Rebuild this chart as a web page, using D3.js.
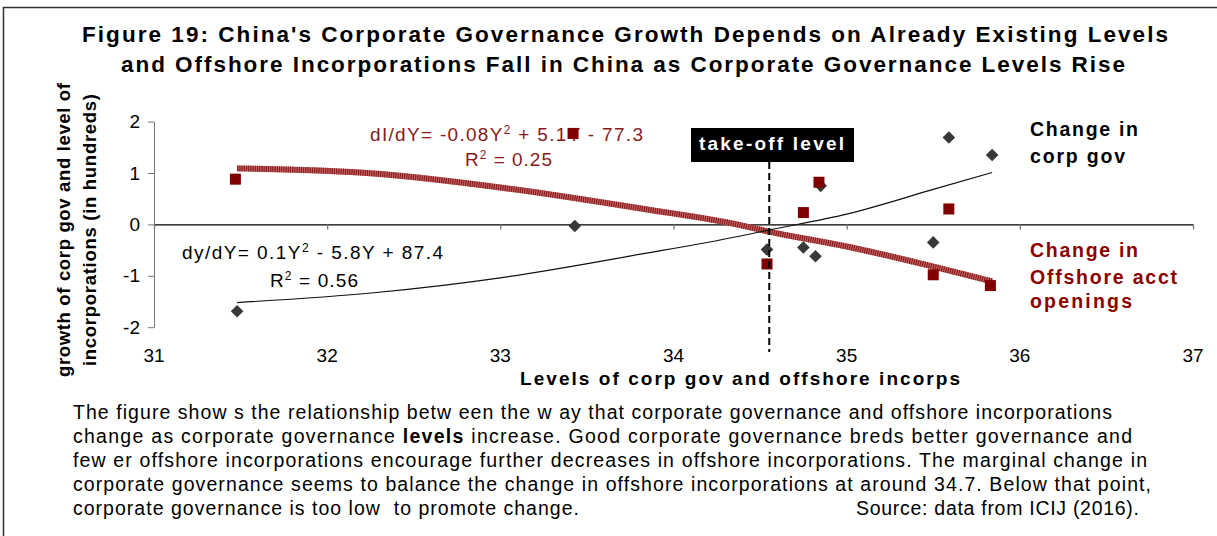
<!DOCTYPE html>
<html>
<head>
<meta charset="utf-8">
<script src="https://cdn.jsdelivr.net/npm/d3@7"></script>
<style>
  body { margin: 0; background: #fff; }
  svg { display: block; font-family: "Liberation Sans", Arial, sans-serif; }
</style>
</head>
<body>
<div id="chart"></div>
<script>
// values
var xTicks = [31, 32, 33, 34, 35, 36, 37];
var yTicks = [-2, -1, 0, 1, 2];

// Change in corp gov (diamonds)
var corpX = [31.48, 33.43, 34.54, 34.75, 34.82, 34.85, 35.50, 35.59, 35.84];
var corpY = [-1.69, -0.03, -0.49, -0.45, -0.62, 0.75, -0.35, 1.69, 1.35];

// Change in offshore acct openings (squares)
var offX = [31.47, 33.42, 34.54, 34.75, 34.84, 35.50, 35.59, 35.83];
var offY = [0.88, 1.77, -0.77, 0.23, 0.82, -0.98, 0.30, -1.19];

// polynomial trend lines
var trendX = [31.48, 32.27, 33.04, 33.81, 34.38, 34.55, 35.0, 35.5, 35.84];
var corpTrend = [-1.52, -1.33, -1.02, -0.58, -0.23, -0.11, 0.20, 0.68, 1.01];
var offTrend = [1.09, 0.99, 0.70, 0.31, -0.01, -0.14, -0.43, -0.82, -1.11];

var takeOff = 34.553;

var titleLines = [
  "Figure 19: China's Corporate Governance Growth Depends on Already Existing Levels",
  "and Offshore Incorporations Fall in China as Corporate Governance Levels Rise"
];

var W = 1217, H = 536;
var red = "#8b0000";

var svg = d3.select("#chart").append("svg")
    .attr("width", W)
    .attr("height", H);

// frame (top + left edges only)
svg.append("path")
    .attr("d", "M3.5,536 L3.5,7.5 L1217,7.5")
    .attr("fill", "none")
    .attr("stroke", "#333")
    .attr("stroke-width", 1.5);

// title
svg.selectAll(".title")
    .data(titleLines)
    .enter().append("text")
    .attr("class", "title")
    .attr("x", function(d, i){ return i == 0 ? 82 : 121; })
    .attr("y", function(d, i){ return i == 0 ? 42 : 72; })
    .attr("textLength", function(d, i){ return i == 0 ? 1086 : 1004; })
    .attr("lengthAdjust", "spacing")
    .style("font-size", "22.5px")
    .style("font-weight", "bold")
    .text(function(d){ return d; });

var x = d3.scaleLinear().domain([31, 37]).range([154, 1193]);
var y = d3.scaleLinear().domain([-2, 2]).range([327.2, 121.6]);

// y axis (left)
var yAxis = svg.append("g")
    .attr("transform", "translate(" + x(31) + ",0)")
    .call(d3.axisLeft(y).tickValues(yTicks).tickSize(6).tickSizeOuter(0)
        .tickFormat(function(d){ return String(d); }));
yAxis.select(".domain").attr("stroke", "#777");
yAxis.selectAll(".tick line").attr("stroke", "#777");
yAxis.selectAll(".tick text")
    .attr("x", -14)
    .style("font-size", "19px")
    .style("font-family", "'Liberation Sans', Arial, sans-serif")
    .attr("fill", "#000");

// x axis sits on zero, ticks pointing down, labels at the bottom
var xAxis = svg.append("g")
    .attr("transform", "translate(0," + y(0) + ")")
    .call(d3.axisBottom(x).tickValues(xTicks).tickSize(5).tickSizeOuter(0).tickFormat(""));
xAxis.select(".domain").attr("stroke", "#000").attr("stroke-width", 1.3);
xAxis.selectAll(".tick line").attr("stroke", "#777").attr("stroke-width", 1.3);

svg.append("g").selectAll("text")
    .data(xTicks)
    .enter().append("text")
    .attr("x", function(d){ return x(d); })
    .attr("y", 362)
    .attr("text-anchor", "middle")
    .style("font-size", "19px")
    .text(function(d){ return d; });

// axis titles
svg.append("text")
    .attr("x", 520)
    .attr("y", 385)
    .attr("textLength", 440)
    .attr("lengthAdjust", "spacing")
    .style("font-size", "19px")
    .style("font-weight", "bold")
    .text("Levels of corp gov and offshore incorps");

var yLab = svg.append("text")
    .attr("transform", "translate(70,230) rotate(-90)")
    .style("font-size", "18.5px")
    .style("font-weight", "bold");
yLab.append("tspan").attr("x", -147).attr("y", 0)
    .attr("textLength", 294).attr("lengthAdjust", "spacing")
    .text("growth of corp gov and level of");
yLab.append("tspan").attr("x", -136).attr("y", 26)
    .attr("textLength", 272).attr("lengthAdjust", "spacing")
    .text("incorporations (in hundreds)");

// equations: text with a raised "2"
function equation(px, py, len, color, pre, post){
  var t = svg.append("text")
      .attr("x", px).attr("y", py)
      .attr("textLength", len)
      .attr("lengthAdjust", "spacing")
      .attr("fill", color)
      .style("font-size", "19px");
  t.append("tspan").text(pre);
  t.append("tspan").attr("dy", -7).style("font-size", "12px").text("2");
  t.append("tspan").attr("dy", 7).text(post);
}
equation(370, 141, 273, "#8b1a1a", "dI/dY= -0.08Y", " + 5.1Y - 77.3");
equation(465, 166, 87, "#8b1a1a", "R", " = 0.25");
equation(182, 259, 261, "#000", "dy/dY= 0.1Y", " - 5.8Y + 87.4");
equation(270, 286.5, 88, "#000", "R", " = 0.56");

// trend lines
var trendLine = d3.line()
    .x(function(d, i){ return x(trendX[i]); })
    .y(function(d){ return y(d); })
    .curve(d3.curveMonotoneX);

svg.append("path")
    .attr("d", trendLine(offTrend))
    .attr("fill", "none")
    .attr("stroke", "#c46a6a")
    .attr("stroke-width", 6);
svg.append("path")
    .attr("d", trendLine(offTrend))
    .attr("fill", "none")
    .attr("stroke", "#8b1a1a")
    .attr("stroke-width", 6)
    .attr("stroke-dasharray", "1.2,1");

svg.append("path")
    .attr("d", trendLine(corpTrend))
    .attr("fill", "none")
    .attr("stroke", "#111")
    .attr("stroke-width", 1.2);

// markers
svg.append("g").selectAll("path")
    .data(corpY)
    .enter().append("path")
    .attr("transform", function(d, i){ return "translate(" + x(corpX[i]) + "," + y(d) + ")"; })
    .attr("d", "M0,-6.3L6.3,0L0,6.3L-6.3,0Z")
    .attr("fill", "#383838");

svg.append("g").selectAll("rect")
    .data(offY)
    .enter().append("rect")
    .attr("x", function(d, i){ return x(offX[i]) - 5.5; })
    .attr("y", function(d){ return y(d) - 5.5; })
    .attr("width", 11)
    .attr("height", 11)
    .attr("fill", "#800000");

// take-off level marker
svg.append("line")
    .attr("x1", x(takeOff)).attr("x2", x(takeOff))
    .attr("y1", 162).attr("y2", 352)
    .attr("stroke", "#000")
    .attr("stroke-width", 2)
    .attr("stroke-dasharray", "7,4");
svg.append("rect")
    .attr("x", 691).attr("y", 128)
    .attr("width", 163).attr("height", 34)
    .attr("fill", "#000");
svg.append("text")
    .attr("x", 699).attr("y", 150)
    .attr("textLength", 145)
    .attr("lengthAdjust", "spacing")
    .attr("fill", "#fff")
    .style("font-size", "19px")
    .style("font-weight", "bold")
    .text("take-off level");

// series labels
var serLabels = [
  {t: "Change in", y: 136, w: 108, c: "#000"},
  {t: "corp gov", y: 162.5, w: 95, c: "#000"},
  {t: "Change in", y: 256.5, w: 108, c: red},
  {t: "Offshore acct", y: 283.5, w: 147, c: red},
  {t: "openings", y: 308, w: 102, c: red}
];
svg.append("g").selectAll("text")
    .data(serLabels)
    .enter().append("text")
    .attr("x", 1030)
    .attr("y", function(d){ return d.y; })
    .attr("textLength", function(d){ return d.w; })
    .attr("lengthAdjust", "spacing")
    .attr("fill", function(d){ return d.c; })
    .style("font-size", "19.5px")
    .style("font-weight", "bold")
    .text(function(d){ return d.t; });

// caption
var caption = [
  {parts: [{s: "The figure show s the relationship betw een the w ay that corporate governance and offshore incorporations"}], len: 1039},
  {parts: [{s: "change as corporate governance "}, {s: "levels", b: true}, {s: " increase. Good corporate governance breds better governance and"}], len: 1059},
  {parts: [{s: "few er offshore incorporations encourage further decreases in offshore incorporations. The marginal change in"}], len: 1074},
  {parts: [{s: "corporate governance seems to balance the change in offshore incorporations at around 34.7. Below that point,"}], len: 1078},
  {parts: [{s: "corporate governance is too low  to promote change."}], len: 506}
];
caption.forEach(function(line, i){
  var t = svg.append("text")
      .attr("x", 73)
      .attr("y", 418.5 + i * 24)
      .attr("textLength", line.len)
      .attr("lengthAdjust", "spacing")
      .style("font-size", "19.5px")
      .style("white-space", "pre");
  line.parts.forEach(function(p){
    t.append("tspan").style("font-weight", p.b ? "bold" : "normal").text(p.s);
  });
});
svg.append("text")
    .attr("x", 856)
    .attr("y", 418.5 + 4 * 24)
    .attr("textLength", 283)
    .attr("lengthAdjust", "spacing")
    .style("font-size", "19.5px")
    .text("Source: data from ICIJ (2016).");
</script>
</body>
</html>
